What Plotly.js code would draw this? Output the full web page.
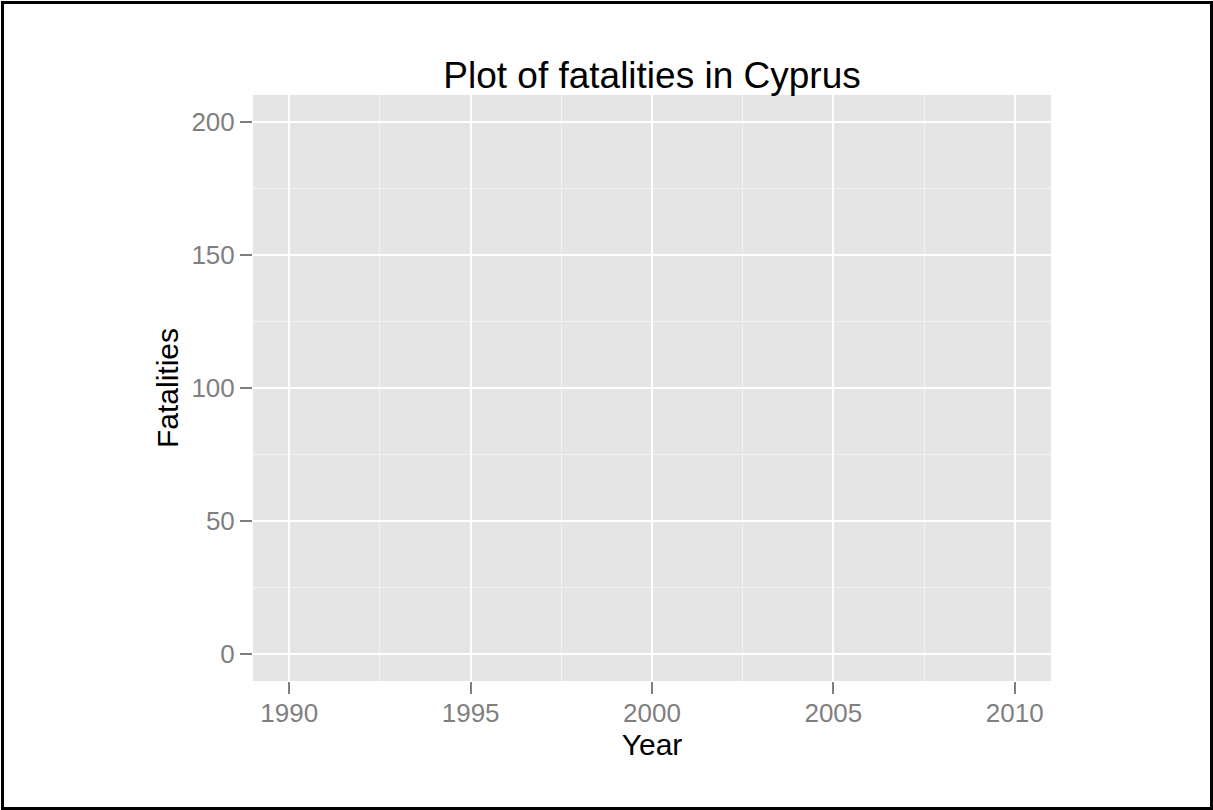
<!DOCTYPE html>
<html>
<head>
<meta charset="utf-8">
<script src="https://cdn.plot.ly/plotly-3.0.1.min.js"></script>
<style>
  html, body { margin: 0; padding: 0; background: #fff; }
  #wrap { position: relative; width: 1213px; height: 810px; }
  #chart { position: absolute; left: 0; top: 0; width: 1213px; height: 810px; }
  #frame { position: absolute; left: 1px; top: 1px; right: 0; bottom: 0; border: 3px solid #000; box-sizing: border-box; pointer-events: none; }
</style>
</head>
<body>
<div id="wrap">
  <div id="chart"></div>
  <div id="frame"></div>
</div>
<script>
// Data: the reference plot contains no marks (empty series)
const years = [];
const fatalities = [];

// Axis ticks
const xTicks = [1990, 1995, 2000, 2005, 2010];
const xTickLabels = ['1990', '1995', '2000', '2005', '2010'];
const yTicks = [0, 50, 100, 150, 200];
const yTickLabels = ['0', '50', '100', '150', '200'];

function midpoints(arr) {
  const out = [];
  for (let i = 0; i < arr.length - 1; i++) out.push((arr[i] + arr[i + 1]) / 2);
  return out;
}

const FONT = 'Liberation Sans, Arial, Helvetica, sans-serif';
const tickGray = '#7F7F7F';

const trace = {
  x: years,
  y: fatalities,
  type: 'scatter',
  mode: 'markers',
  marker: { color: '#000' },
  showlegend: false,
  hoverinfo: 'skip'
};

const layout = {
  width: 1213,
  height: 810,
  paper_bgcolor: '#FFFFFF',
  plot_bgcolor: '#E5E5E5',
  margin: { l: 253, r: 162, t: 95, b: 129 },
  showlegend: false,
  title: {
    text: 'Plot of fatalities in Cyprus',
    font: { family: FONT, size: 37, color: '#000' },
    x: 0.5, xanchor: 'center', xref: 'paper',
    y: 1, yref: 'paper', yanchor: 'bottom',
    pad: { b: 7 }
  },
  xaxis: {
    range: [1989, 2011],
    tickmode: 'array',
    tickvals: xTicks,
    ticktext: xTickLabels,
    ticks: 'outside',
    ticklen: 12,
    tickwidth: 2,
    tickcolor: tickGray,
    ticklabelstandoff: -3,
    tickfont: { family: FONT, size: 26, color: tickGray },
    showgrid: true,
    gridcolor: '#FFFFFF',
    gridwidth: 2,
    zeroline: false,
    showline: false,
    minor: {
      tickmode: 'array',
      tickvals: midpoints(xTicks),
      showgrid: true,
      gridcolor: '#F2F2F2',
      gridwidth: 1,
      ticks: ''
    },
    title: {
      text: 'Year',
      font: { family: FONT, size: 30, color: '#000' },
      standoff: 0
    },
    automargin: false
  },
  yaxis: {
    range: [-10, 210],
    tickmode: 'array',
    tickvals: yTicks,
    ticktext: yTickLabels,
    ticks: 'outside',
    ticklen: 12,
    tickwidth: 2,
    tickcolor: tickGray,
    tickfont: { family: FONT, size: 26, color: tickGray },
    showgrid: true,
    gridcolor: '#FFFFFF',
    gridwidth: 2,
    zeroline: false,
    showline: false,
    minor: {
      tickmode: 'array',
      tickvals: midpoints(yTicks),
      showgrid: true,
      gridcolor: '#F2F2F2',
      gridwidth: 1,
      ticks: ''
    },
    title: {
      text: 'Fatalities',
      font: { family: FONT, size: 30, color: '#000' },
      standoff: 3
    },
    automargin: false
  }
};

Plotly.newPlot('chart', [trace], layout, { staticPlot: true, displayModeBar: false });
</script>
</body>
</html>
